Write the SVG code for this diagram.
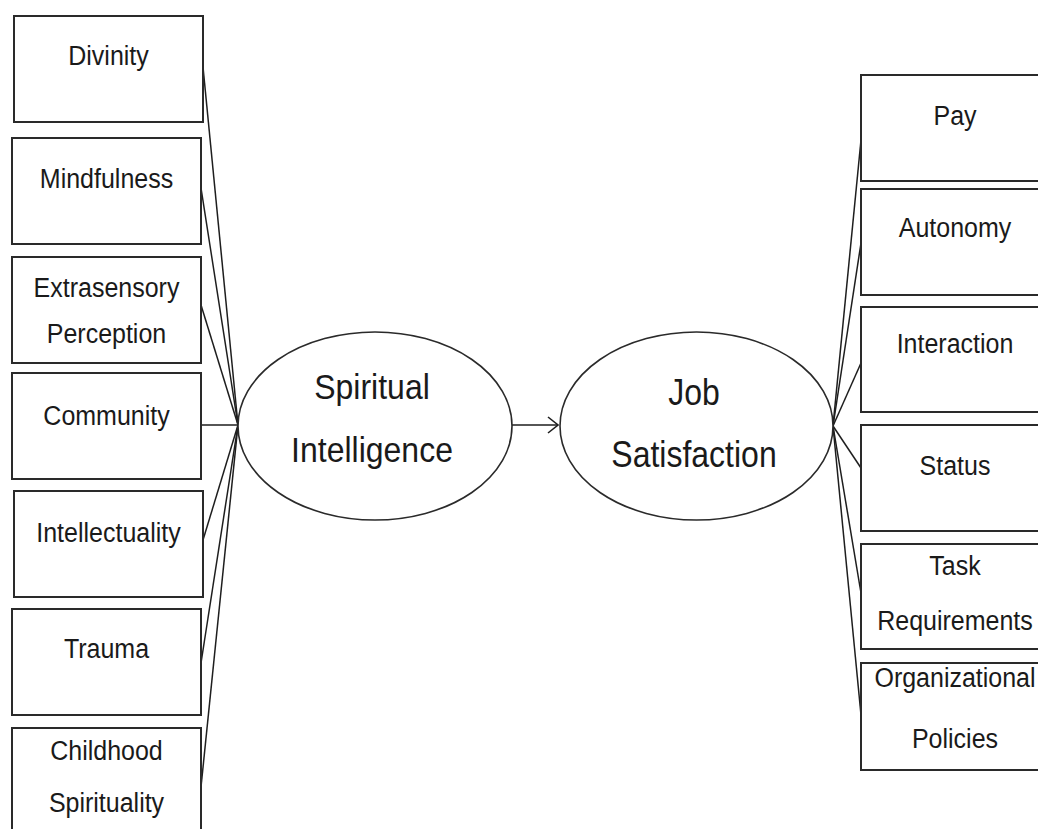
<svg xmlns="http://www.w3.org/2000/svg" width="1038" height="829" viewBox="0 0 1038 829">
  <style>
    .box { fill: #ffffff; stroke: #2a2a2a; stroke-width: 2; }
    .oval { fill: #ffffff; stroke: #2a2a2a; stroke-width: 1.6; }
    .link { fill: none; stroke: #1e1e1e; stroke-width: 1.5; }
    .lbl { font-family: "Liberation Sans", Arial, sans-serif; font-size: 25px; fill: #1a1a1a; text-anchor: middle; }
    .big { font-family: "Liberation Sans", Arial, sans-serif; font-size: 32px; fill: #1a1a1a; text-anchor: middle; }
  </style>
  <defs>
    <marker id="open-arrow" viewBox="0 0 12 18" refX="11" refY="9" markerWidth="12" markerHeight="18" markerUnits="userSpaceOnUse" orient="auto">
      <path d="M1,1 L11,9 L1,17" fill="none" stroke="#1e1e1e" stroke-width="1.6"/>
    </marker>
  </defs>

  <rect width="1038" height="829" fill="#ffffff"/>

  <!-- connectors -->
  <g id="connectors">
    <line class="link" x1="203" y1="67" x2="238" y2="425"/>
    <line class="link" x1="201" y1="188" x2="238" y2="425"/>
    <line class="link" x1="201" y1="305" x2="238" y2="425"/>
    <line class="link" x1="201" y1="425" x2="238" y2="425"/>
    <line class="link" x1="203" y1="540" x2="238" y2="425"/>
    <line class="link" x1="201" y1="663" x2="238" y2="425"/>
    <line class="link" x1="201" y1="787" x2="238" y2="425"/>

    <line class="link" x1="512" y1="425" x2="558" y2="425" marker-end="url(#open-arrow)"/>

    <line class="link" x1="833" y1="426" x2="861" y2="140"/>
    <line class="link" x1="833" y1="426" x2="861" y2="243"/>
    <line class="link" x1="833" y1="426" x2="861" y2="363"/>
    <line class="link" x1="833" y1="426" x2="861" y2="468"/>
    <line class="link" x1="833" y1="426" x2="861" y2="593"/>
    <line class="link" x1="833" y1="426" x2="861" y2="715"/>
  </g>

  <!-- spiritual intelligence dimensions -->
  <g id="divinity">
    <rect class="box" x="14" y="16" width="189" height="106"/>
    <text class="lbl" transform="translate(108.5,65) scale(1,1.08)">Divinity</text>
  </g>
  <g id="mindfulness">
    <rect class="box" x="12" y="138" width="189" height="106"/>
    <text class="lbl" transform="translate(106.5,188) scale(1,1.08)">Mindfulness</text>
  </g>
  <g id="extrasensory-perception">
    <rect class="box" x="12" y="257" width="189" height="106"/>
    <text class="lbl" transform="translate(106.5,297) scale(1,1.08)">Extrasensory</text>
    <text class="lbl" transform="translate(106.5,343) scale(1,1.08)">Perception</text>
  </g>
  <g id="community">
    <rect class="box" x="12" y="373" width="189" height="106"/>
    <text class="lbl" transform="translate(106.5,425) scale(1,1.08)">Community</text>
  </g>
  <g id="intellectuality">
    <rect class="box" x="14" y="491" width="189" height="106"/>
    <text class="lbl" transform="translate(108.5,542) scale(1,1.08)">Intellectuality</text>
  </g>
  <g id="trauma">
    <rect class="box" x="12" y="609" width="189" height="106"/>
    <text class="lbl" transform="translate(106.5,658) scale(1,1.08)">Trauma</text>
  </g>
  <g id="childhood-spirituality">
    <rect class="box" x="12" y="728" width="189" height="108"/>
    <text class="lbl" transform="translate(106.5,760) scale(1,1.08)">Childhood</text>
    <text class="lbl" transform="translate(106.5,812) scale(1,1.08)">Spirituality</text>
  </g>

  <!-- central constructs -->
  <g id="spiritual-intelligence">
    <ellipse class="oval" cx="375" cy="426" rx="137" ry="94"/>
    <text class="big" transform="translate(372,399) scale(1,1.12)">Spiritual</text>
    <text class="big" transform="translate(372,462) scale(1,1.12)">Intelligence</text>
  </g>
  <g id="job-satisfaction">
    <ellipse class="oval" cx="696.5" cy="426" rx="136.5" ry="94"/>
    <text class="big" transform="translate(694,405) scale(1,1.14)">Job</text>
    <text class="big" transform="translate(694,467) scale(1,1.14)">Satisfaction</text>
  </g>

  <!-- job satisfaction facets -->
  <g id="pay">
    <rect class="box" x="861" y="75" width="189" height="106"/>
    <text class="lbl" transform="translate(955,125) scale(1,1.08)">Pay</text>
  </g>
  <g id="autonomy">
    <rect class="box" x="861" y="189" width="189" height="106"/>
    <text class="lbl" transform="translate(955,237) scale(1,1.08)">Autonomy</text>
  </g>
  <g id="interaction">
    <rect class="box" x="861" y="307" width="189" height="105"/>
    <text class="lbl" transform="translate(955,353) scale(1,1.08)">Interaction</text>
  </g>
  <g id="status">
    <rect class="box" x="861" y="425" width="189" height="106"/>
    <text class="lbl" transform="translate(955,475) scale(1,1.08)">Status</text>
  </g>
  <g id="task-requirements">
    <rect class="box" x="861" y="544" width="189" height="105"/>
    <text class="lbl" transform="translate(955,575) scale(1,1.08)">Task</text>
    <text class="lbl" transform="translate(955,630) scale(1,1.08)">Requirements</text>
  </g>
  <g id="organizational-policies">
    <rect class="box" x="861" y="663" width="189" height="107"/>
    <text class="lbl" transform="translate(955,687) scale(1,1.08)">Organizational</text>
    <text class="lbl" transform="translate(955,748) scale(1,1.08)">Policies</text>
  </g>
</svg>
